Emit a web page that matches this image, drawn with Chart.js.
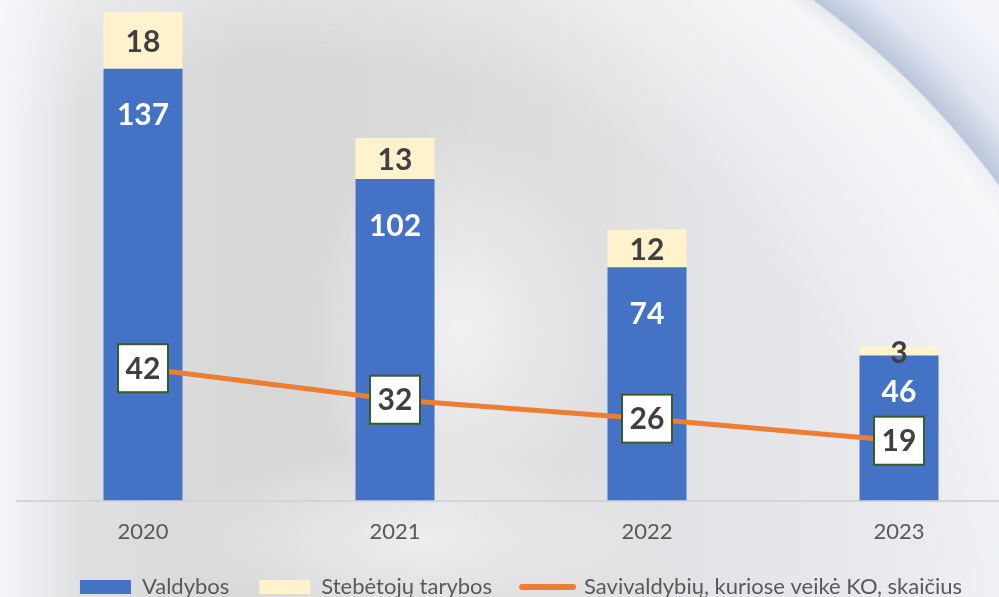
<!DOCTYPE html>
<html>
<head>
<meta charset="utf-8">
<script src="https://cdn.jsdelivr.net/npm/chart.js@4.4.1/dist/chart.umd.min.js"></script>
<style>
  html, body { margin: 0; padding: 0; }
  body {
    width: 999px; height: 597px; overflow: hidden;
    background:
      radial-gradient(circle at 300px 700px, rgba(0,0,0,0) 867px, #bac6da 869px, #e1e7f1 905px, #f3f5f9 960px),
      radial-gradient(circle at 300px 700px, rgba(246,247,249,0) 640px, rgba(246,247,249,0.95) 850px, rgba(246,247,249,0) 869px),
      radial-gradient(ellipse 150px 210px at 460px 330px, rgba(244,245,247,0.85), rgba(244,245,247,0)),
      radial-gradient(ellipse 260px 90px at 420px 540px, rgba(244,245,247,0.7), rgba(244,245,247,0)),
      linear-gradient(90deg, #f4f6f9 0, #dfe0e2 80px, #d7d7d8 250px, #dbdbdc 500px, #e3e4e7 720px, #eceef2 999px);
  }
  #wrap { position: absolute; left: 0; top: 0; width: 1035px; height: 608px; }
</style>
</head>
<body>
<div id="wrap"><canvas id="koChart" width="1035" height="608"></canvas></div>
<script>
const years = ['2020', '2021', '2022', '2023'];
const valdybos = [137, 102, 74, 46];
const stebetojuTarybos = [18, 13, 12, 3];
const savivaldybes = [42, 32, 26, 19];

const blue = '#4472C4';
const cream = '#FFF2CC';
const orange = '#ED7D31';
const textGray = '#595959';
const labelDark = '#404040';

// data labels: inside bars and boxed labels on the line
const labelPlugin = {
    id: 'koLabels',
    afterDatasetsDraw(chart) {
        const ctx = chart.ctx;
        ctx.save();
        ctx.textAlign = 'center';
        ctx.textBaseline = 'middle';
        ctx.font = 'bold 30px Lato';

        chart.getDatasetMeta(0).data.forEach((bar, i) => {
            const h = bar.base - bar.y;
            ctx.fillStyle = '#ffffff';
            ctx.fillText(valdybos[i], bar.x, bar.y + Math.min(47, h * 0.25));
        });

        chart.getDatasetMeta(1).data.forEach((bar, i) => {
            ctx.fillStyle = labelDark;
            ctx.fillText(stebetojuTarybos[i], bar.x, (bar.y + bar.base) / 2 + 2);
        });

        chart.getDatasetMeta(2).data.forEach((pt, i) => {
            ctx.fillStyle = '#ffffff';
            ctx.fillRect(pt.x - 25, pt.y - 24, 50, 48);
            ctx.strokeStyle = '#3b5a2a';
            ctx.lineWidth = 2;
            ctx.strokeRect(pt.x - 25, pt.y - 24, 50, 48);
            ctx.fillStyle = labelDark;
            ctx.fillText(savivaldybes[i], pt.x, pt.y + 1);
        });
        ctx.restore();
    }
};

const ctx = document.getElementById('koChart').getContext('2d');
new Chart(ctx, {
    type: 'bar',
    data: {
        labels: years,
        datasets: [
            {
                label: 'Valdybos',
                data: valdybos,
                backgroundColor: blue,
                stack: 'ko',
                order: 1,
                barPercentage: 1,
                categoryPercentage: 79 / 252
            },
            {
                label: 'Stebėtojų tarybos',
                data: stebetojuTarybos,
                backgroundColor: cream,
                stack: 'ko',
                order: 1,
                barPercentage: 1,
                categoryPercentage: 79 / 252
            },
            {
                type: 'line',
                label: 'Savivaldybių, kuriose veikė KO, skaičius',
                data: savivaldybes,
                borderColor: orange,
                backgroundColor: orange,
                borderWidth: 5,
                pointRadius: 0,
                tension: 0,
                stack: 'line',
                order: 0
            }
        ]
    },
    options: {
        responsive: false,
        animation: false,
        layout: { padding: { left: 17, right: 10, top: 12, bottom: 0 } },
        plugins: {
            tooltip: { enabled: false },
            legend: {
                position: 'bottom',
                labels: {
                    usePointStyle: true,
                    pointStyleWidth: 51,
                    boxHeight: 14,
                    padding: 30,
                    color: textGray,
                    font: { family: 'Lato', size: 22 },
                    generateLabels(chart) {
                        return chart.data.datasets.map((ds, i) => ({
                            text: ds.label,
                            fillStyle: ds.backgroundColor,
                            strokeStyle: ds.type === 'line' ? orange : ds.backgroundColor,
                            lineWidth: ds.type === 'line' ? 6 : 0,
                            lineCap: 'round',
                            pointStyle: ds.type === 'line' ? 'line' : 'rect',
                            fontColor: textGray,
                            datasetIndex: i,
                            hidden: false
                        }));
                    }
                }
            }
        },
        scales: {
            x: {
                stacked: true,
                grid: { color: 'rgba(0,0,0,0)', drawTicks: false },
                border: { color: '#d4d4d4', width: 2 },
                ticks: { color: textGray, font: { family: 'Lato', size: 22 }, padding: 18 },
                afterFit(scale) { scale.height -= 17; }
            },
            y: {
                stacked: true,
                display: false,
                min: 0,
                max: 155
            }
        }
    },
    plugins: [labelPlugin]
});
</script>
</body>
</html>
